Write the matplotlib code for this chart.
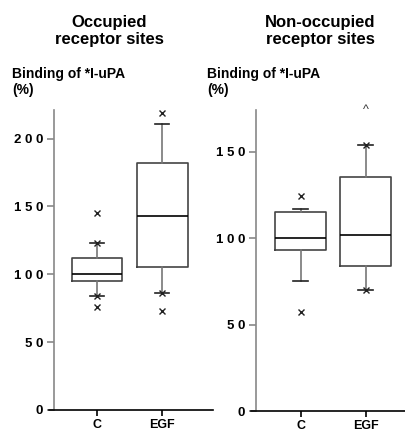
import matplotlib
matplotlib.use('Agg')
import matplotlib.pyplot as plt

plt.rcParams['font.family'] = ['Liberation Sans', 'DejaVu Sans']
plt.rcParams['font.weight'] = 'bold'

groups = ['C', 'EGF']

# occupied receptor sites
occ_q1 = [95, 105]
occ_med = [100, 143]
occ_q3 = [112, 182]
occ_lo = [84, 86]
occ_hi = [123, 211]
occ_fliers = [[145, 123, 84, 76], [219, 86, 73]]
occ_ticks = [0, 50, 100, 150, 200]
occ_ticklabels = ['0', '5 0', '1 0 0', '1 5 0', '2 0 0']

# non-occupied receptor sites
non_q1 = [93, 84]
non_med = [100, 102]
non_q3 = [115, 135]
non_lo = [75, 70]
non_hi = [117, 154]
non_fliers = [[124, 57], [154, 70]]
non_offscale = 174   # point drawn as caret at top of EGF
non_ticks = [0, 50, 100, 150]
non_ticklabels = ['0', '5 0', '1 0 0', '1 5 0']

W, H = 406, 432
fig = plt.figure(figsize=(W / 100, H / 100), dpi=100)

def panel(rect, q1, med, q3, lo, hi, fliers, ylim, ticks, ticklabels, xlim):
    ax = fig.add_axes([rect[0] / W, 1 - (rect[1] + rect[3]) / H, rect[2] / W, rect[3] / H])
    stats = []
    for i in range(2):
        stats.append(dict(q1=q1[i], med=med[i], q3=q3[i], whislo=lo[i], whishi=hi[i],
                          fliers=fliers[i], label=groups[i]))
    ax.bxp(stats, positions=[1, 2], widths=0.78, showfliers=True,
           boxprops=dict(color='#444444', lw=1.2),
           medianprops=dict(color='black', lw=1.2),
           whiskerprops=dict(color='#777777', lw=1.2),
           capprops=dict(color='#222222', lw=1.2),
           capwidths=0.22,
           flierprops=dict(marker='x', markersize=5, markeredgecolor='#222222', markeredgewidth=1.0))
    ax.set_xlim(*xlim)
    ax.set_ylim(0, ylim)
    ax.set_yticks(ticks)
    ax.set_yticklabels(ticklabels)
    ax.spines['top'].set_visible(False)
    ax.spines['right'].set_visible(False)
    ax.spines['left'].set_color('#888888')
    ax.spines['left'].set_linewidth(1.2)
    ax.spines['bottom'].set_color('black')
    ax.spines['bottom'].set_linewidth(1.2)
    ax.spines['bottom'].set_bounds(xlim[0] - 0.08, xlim[1])
    ax.tick_params(axis='y', direction='out', length=5, width=1.2, color='#888888',
                   labelsize=9.5, pad=3)
    ax.tick_params(axis='x', direction='out', length=4, width=1.2, color='black',
                   labelsize=9, pad=2.5)
    for t in ax.get_xticklabels() + ax.get_yticklabels():
        t.set_fontweight('heavy')
    return ax

ax1 = panel((54, 110, 159, 300), occ_q1, occ_med, occ_q3, occ_lo, occ_hi, occ_fliers,
            221, occ_ticks, occ_ticklabels, (0.34, 2.78))
ax2 = panel((256, 110, 150, 301), non_q1, non_med, non_q3, non_lo, non_hi, non_fliers,
            174, non_ticks, non_ticklabels, (0.315, 2.62))
ax2.text(2, non_offscale, '^', ha='center', va='center', fontsize=9,
         color='#333333', fontweight='normal', clip_on=False)

# titles and axis captions
fig.text(109 / W, 1 - 31 / H, 'Occupied\nreceptor sites', ha='center', va='center',
         fontsize=12, fontweight='bold', linespacing=1.1)
fig.text(320 / W, 1 - 31 / H, 'Non-occupied\nreceptor sites', ha='center', va='center',
         fontsize=12, fontweight='bold', linespacing=1.1)
fig.text(12 / W, 1 - 82 / H, 'Binding of *I-uPA\n(%)', ha='left', va='center',
         fontsize=10, fontweight='bold', linespacing=1.15)
fig.text(207 / W, 1 - 82 / H, 'Binding of *I-uPA\n(%)', ha='left', va='center',
         fontsize=10, fontweight='bold', linespacing=1.15)

fig.savefig('out.png', dpi=100)
